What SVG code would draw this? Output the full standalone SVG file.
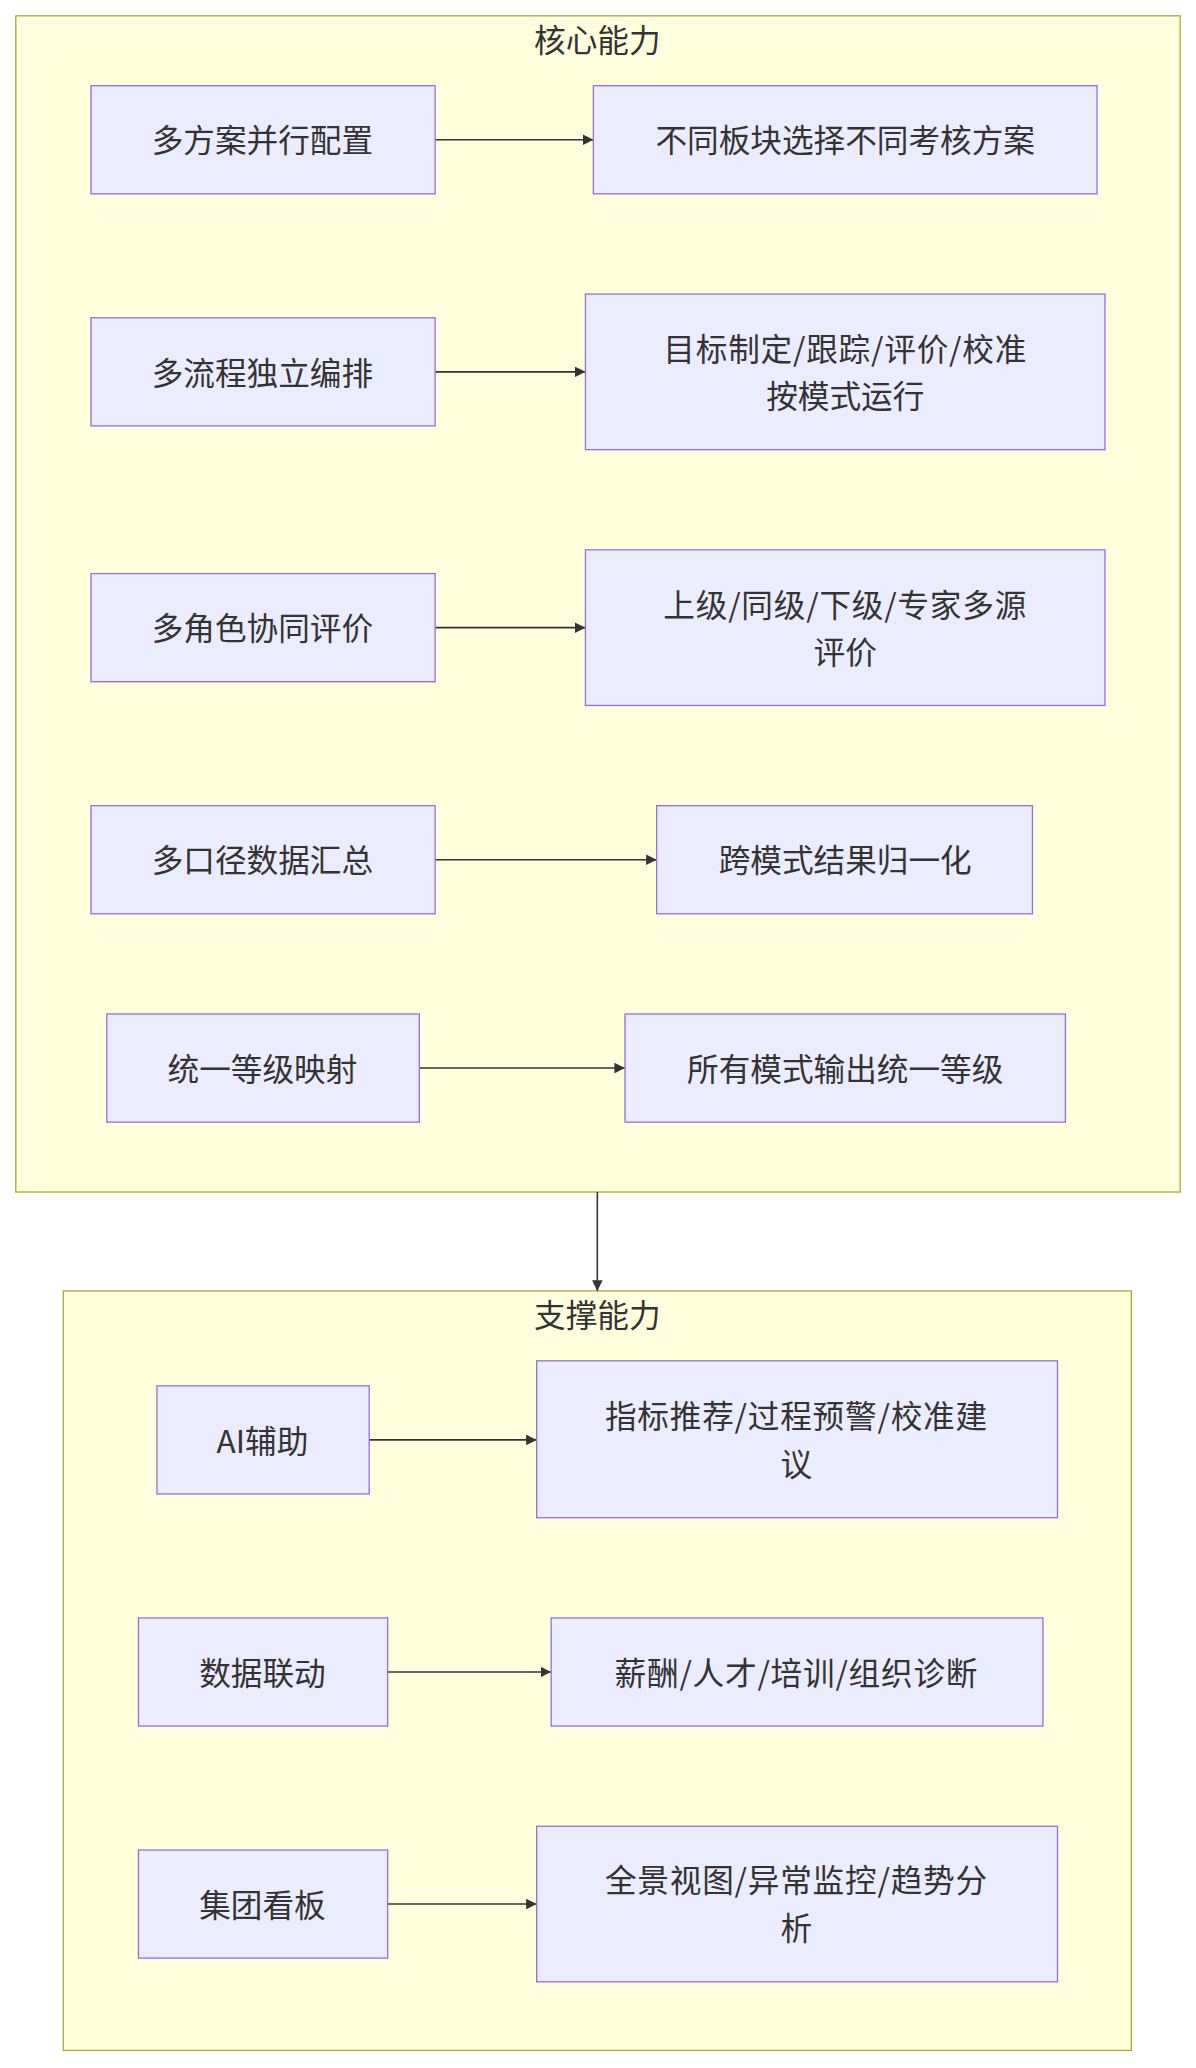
<svg xmlns="http://www.w3.org/2000/svg" width="1196" height="2068" viewBox="0 0 1196 2068">
<style>
.c{fill:#ffffde;stroke:#aaaa33;stroke-width:1}
.n{fill:#ececff;stroke:#9370db;stroke-width:1}
.e{stroke:#333;stroke-width:1.2;fill:none;marker-end:url(#a)}
text{font-family:"Noto Sans CJK SC","Liberation Sans",sans-serif;font-size:24px;fill:#333;text-anchor:middle;dominant-baseline:central}
</style>
<defs><marker id="a" viewBox="0 0 10 10" refX="10" refY="5" markerWidth="8" markerHeight="8" orient="auto" markerUnits="userSpaceOnUse"><path d="M0,0L10,5L0,10z" fill="#333"/></marker></defs>
<rect width="1196" height="2068" fill="#fff"/>
<g transform="scale(1.3186)">
<g id="core"><rect class="c" x="12" y="12" width="883" height="892"/><text x="453" y="29">核心能力</text></g>
<g id="support"><rect class="c" x="48" y="979" width="810" height="576"/><text x="453" y="996">支撑能力</text></g>
<g id="edges">
<path class="e" d="M330,106H450"/>
<path class="e" d="M330,282H444"/>
<path class="e" d="M330,476H444"/>
<path class="e" d="M330,652H498"/>
<path class="e" d="M318,810H474"/>
<path class="e" d="M453,904V979"/>
<path class="e" d="M280,1092H407"/>
<path class="e" d="M294,1268H418"/>
<path class="e" d="M294,1444H407"/>
</g>
<g id="n1"><rect class="n" x="69" y="65" width="261" height="82"/><text x="199" y="105">多方案并行配置</text></g>
<g id="n2"><rect class="n" x="450" y="65" width="382" height="82"/><text x="641" y="105">不同板块选择不同考核方案</text></g>
<g id="n3"><rect class="n" x="69" y="241" width="261" height="82"/><text x="199" y="281">多流程独立编排</text></g>
<g id="n4"><rect class="n" x="444" y="223" width="394" height="118"/><text x="641" y="263" letter-spacing="0.6">目标制定/跟踪/评价/校准</text><text x="641" y="299">按模式运行</text></g>
<g id="n5"><rect class="n" x="69" y="435" width="261" height="82"/><text x="199" y="475">多角色协同评价</text></g>
<g id="n6"><rect class="n" x="444" y="417" width="394" height="118"/><text x="641" y="457" letter-spacing="0.6">上级/同级/下级/专家多源</text><text x="641" y="493">评价</text></g>
<g id="n7"><rect class="n" x="69" y="611" width="261" height="82"/><text x="199" y="651">多口径数据汇总</text></g>
<g id="n8"><rect class="n" x="498" y="611" width="285" height="82"/><text x="641" y="651">跨模式结果归一化</text></g>
<g id="n9"><rect class="n" x="81" y="769" width="237" height="82"/><text x="199" y="809">统一等级映射</text></g>
<g id="n10"><rect class="n" x="474" y="769" width="334" height="82"/><text x="641" y="809">所有模式输出统一等级</text></g>
<g id="n11"><rect class="n" x="119" y="1051" width="161" height="82"/><text x="199" y="1091">AI辅助</text></g>
<g id="n12"><rect class="n" x="407" y="1032" width="395" height="119"/><text x="604" y="1072" letter-spacing="0.6">指标推荐/过程预警/校准建</text><text x="604" y="1109">议</text></g>
<g id="n13"><rect class="n" x="105" y="1227" width="189" height="82"/><text x="199" y="1267">数据联动</text></g>
<g id="n14"><rect class="n" x="418" y="1227" width="373" height="82"/><text x="604" y="1267" letter-spacing="0.6">薪酬/人才/培训/组织诊断</text></g>
<g id="n15"><rect class="n" x="105" y="1403" width="189" height="82"/><text x="199" y="1443">集团看板</text></g>
<g id="n16"><rect class="n" x="407" y="1385" width="395" height="118"/><text x="604" y="1424" letter-spacing="0.6">全景视图/异常监控/趋势分</text><text x="604" y="1461">析</text></g>
</g>
</svg>
